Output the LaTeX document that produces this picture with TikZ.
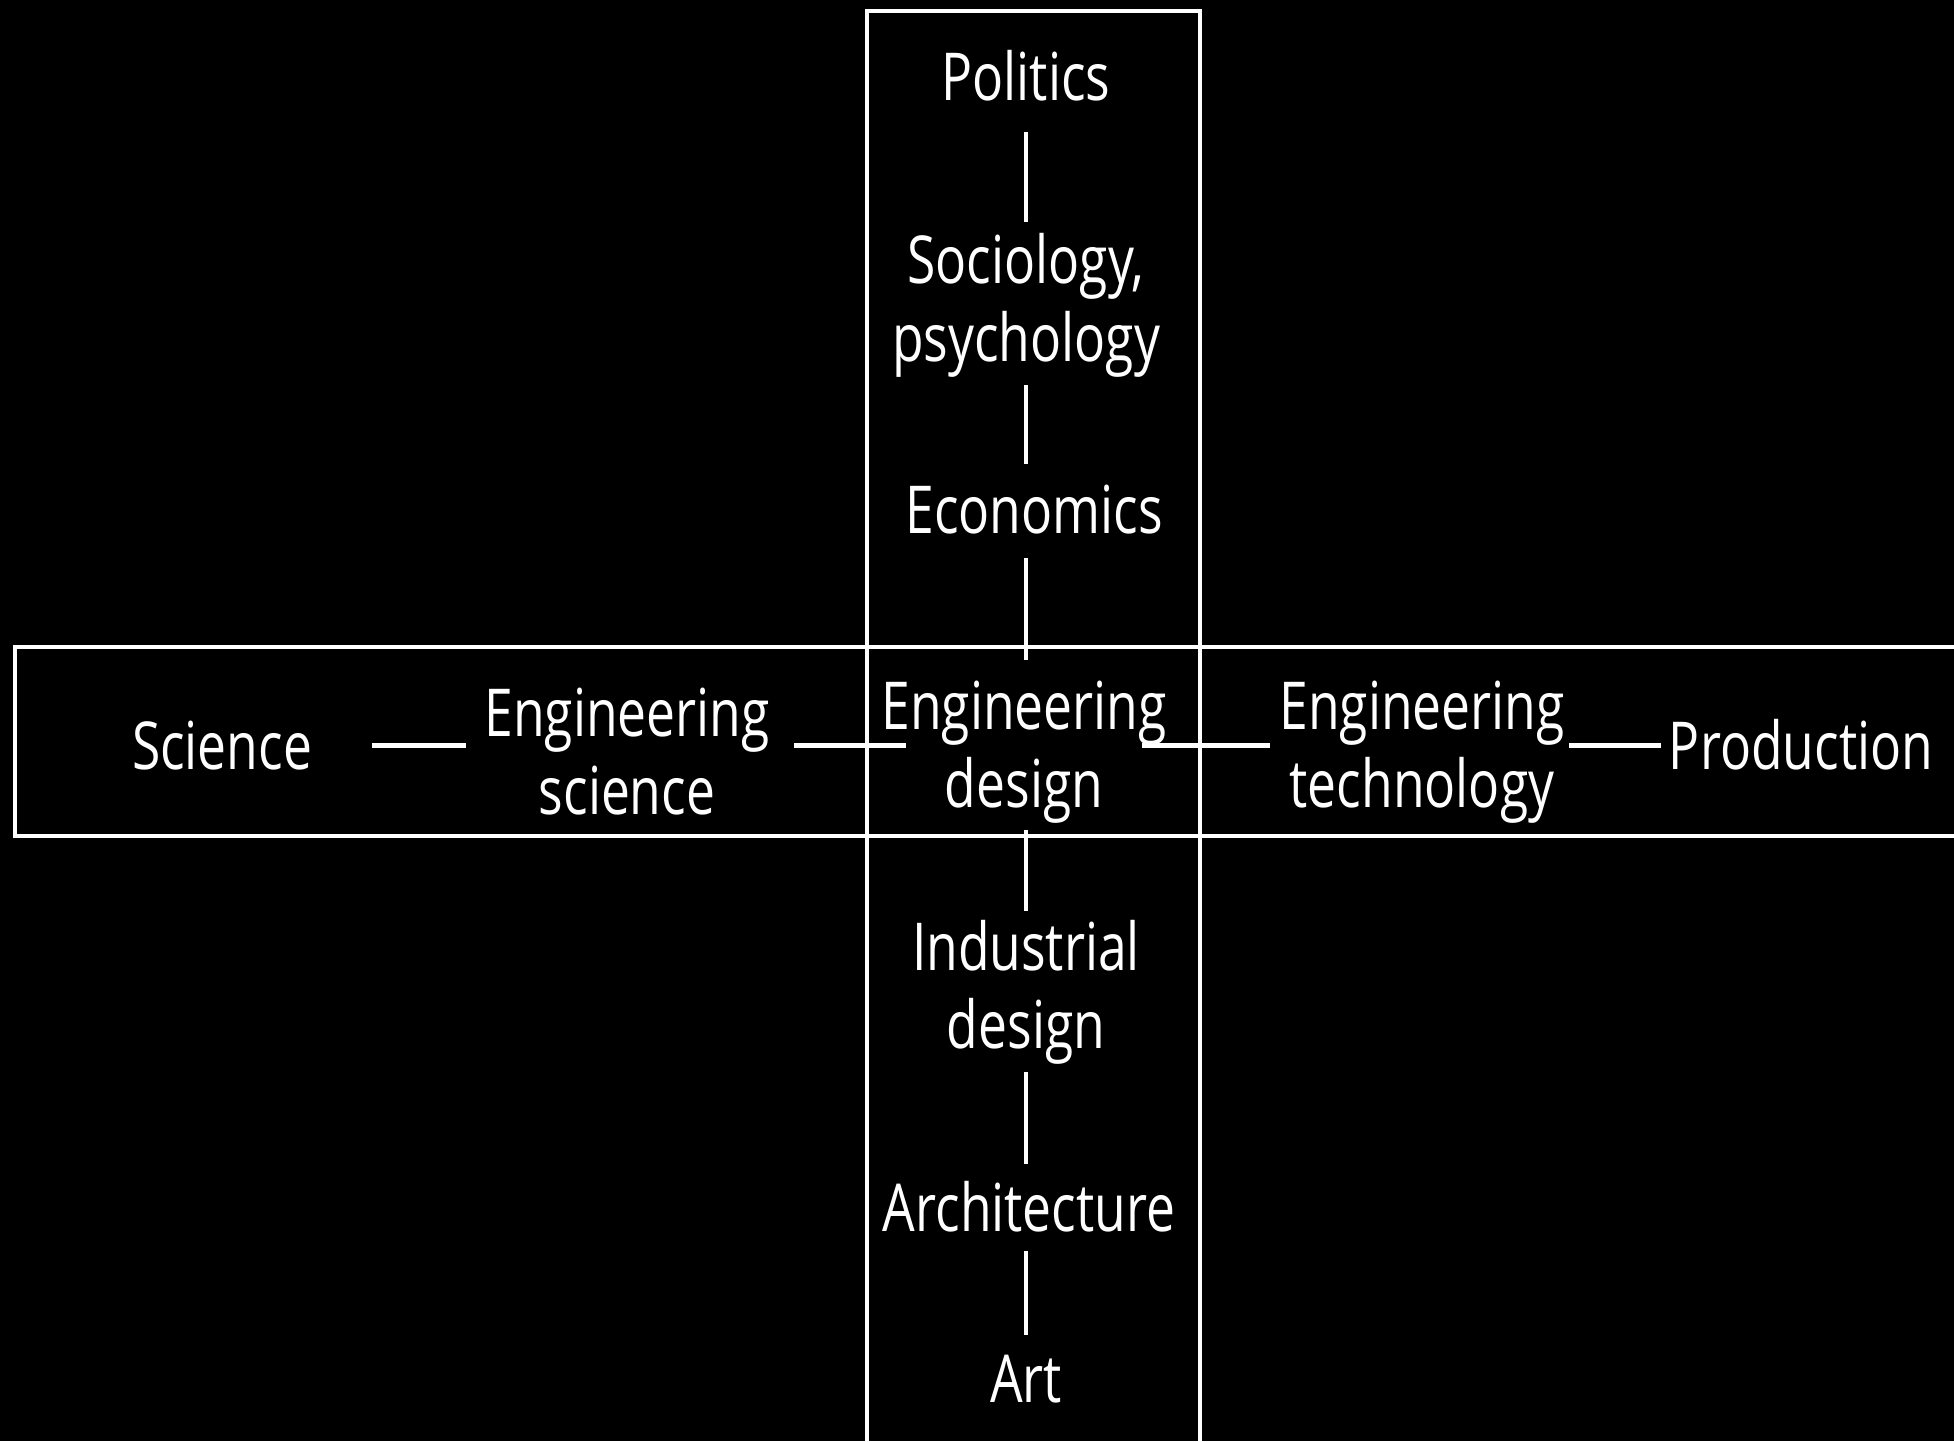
\documentclass[tikz,border=0pt]{standalone}
\usepackage{fontspec}
\setmainfont[FakeStretch=0.78]{Open Sans}

\begin{document}
\begin{tikzpicture}[x=0.01cm,y=-0.01cm,
    every node/.style={text=white,inner sep=0pt,align=center,font=\fontsize{18.8}{22.2}\selectfont},
    frame/.style={draw=white,line width=1pt},
    link/.style={draw=white,line width=1.4pt}]
  \fill[black] (0,0) rectangle (1954,1441);
  \useasboundingbox (0,0) rectangle (1954,1441);
  \draw[frame] (867,1441) |- (1200,11) -- (1200,1441);
  \draw[frame] (1954,647) -| (15,836) -- (1954,836);
  % vertical column
  \node[anchor=base] (pol) at (1026,100) {Politics};
  \node (soc) at (1026,305) {Sociology,\\psychology};
  \node[anchor=base] (eco) at (1034,533) {Economics};
  \node (edes) at (1024,752) {Engineering\\design};
  \node (ind) at (1026,992) {Industrial\\design};
  \node[anchor=base] (arch) at (1029,1231) {Architecture};
  \node[anchor=base] (art) at (1026,1402) {Art};
  % horizontal row
  \node[anchor=base] (sci) at (222,769) {Science};
  \node (esci) at (627,752) {Engineering\\science};
  \node (etech) at (1422,752) {Engineering\\technology};
  \node[anchor=base] (prod) at (1801,769) {Production};
  \draw[link,shorten <=3.1mm,shorten >=1mm] (pol.south) -- (pol.south |- soc.north);
  \draw[link,shorten <=0.7mm,shorten >=2mm] (soc.south) -- (soc.south |- eco.north);
  \draw[link,shorten <=2.4mm,shorten >=2mm] (soc.south |- eco.south) -- (soc.south |- edes.north);
  \draw[link,shorten <=0.6mm,shorten >=0.8mm] (soc.south |- edes.south) -- (soc.south |- ind.north);
  \draw[link,shorten <=0.7mm,shorten >=1.6mm] (ind.south) -- (ind.south |- arch.north);
  \draw[link,shorten <=1.9mm,shorten >=1.9mm] (ind.south |- arch.south) -- (ind.south |- art.north);
  \draw[link,shorten <=5.9mm,shorten >=1.8mm] (sci.east) -- (sci.east -| esci.west);
  \draw[link,shorten <=2.4mm,shorten >=-2.5mm] (sci.east -| esci.east) -- (sci.east -| edes.west);
  \draw[link,shorten <=-2.5mm,shorten >=0.9mm] (sci.east -| edes.east) -- (sci.east -| etech.west);
  \draw[link,shorten <=0.4mm,shorten >=0.7mm] (sci.east -| etech.east) -- (sci.east -| prod.west);
\end{tikzpicture}
\end{document}
